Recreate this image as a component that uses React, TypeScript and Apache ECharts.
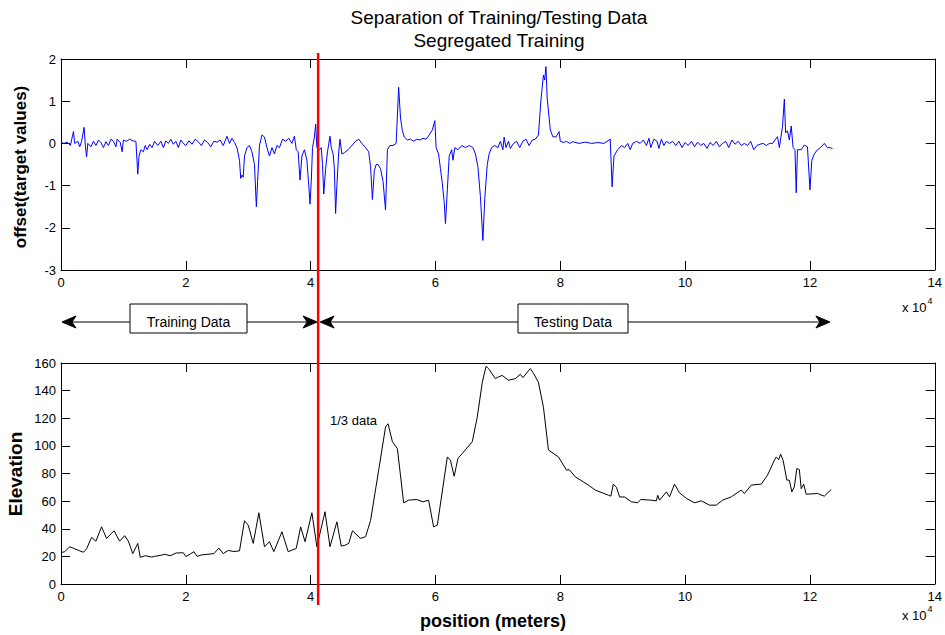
import { useEffect, useRef } from "react";
import * as echarts from "echarts";

const titleLines = ["Separation of Training/Testing Data", "Segregated Training"];
const topYLabel = "offset(target values)";
const bottomYLabel = "Elevation";
const xLabel = "position (meters)";
const annotation = "1/3 data";
const trainingLabel = "Training Data";
const testingLabel = "Testing Data";

// x in units of 10^4 m
const xMin = 0;
const xMax = 14;
const xInterval = 2;
const offsetMin = -3;
const offsetMax = 2;
const offsetInterval = 1;
const elevMin = 0;
const elevMax = 160;
const elevInterval = 20;
const splitX = 4.12;
const arrowEndX = 12.32;

const offsetData: [number, number][] = [
  [0, 0.02], [0.05, 0.0], [0.1, 0.03], [0.15, -0.05], [0.2, 0.28], [0.22, 0.0], [0.27, 0.05], [0.3, -0.08],
  [0.33, 0.05], [0.37, 0.38], [0.39, -0.05], [0.41, -0.32], [0.43, 0.0], [0.48, -0.08], [0.52, 0.05], [0.56, -0.05],
  [0.6, 0.08], [0.64, 0.02], [0.68, -0.1], [0.72, 0.04], [0.76, -0.05], [0.8, 0.1], [0.84, 0.05], [0.88, -0.08],
  [0.9, 0.1], [0.95, 0.02], [0.98, -0.2], [1.0, 0.08], [1.05, 0.05], [1.1, 0.1], [1.15, 0.06], [1.2, 0.05],
  [1.23, -0.73], [1.25, -0.3], [1.28, -0.15], [1.32, -0.2], [1.35, -0.05], [1.38, -0.15], [1.42, -0.02], [1.46, -0.1],
  [1.5, 0.05], [1.55, -0.05], [1.6, 0.05], [1.64, -0.1], [1.68, 0.06], [1.72, 0.0], [1.76, 0.1], [1.8, -0.02],
  [1.84, 0.05], [1.88, -0.1], [1.92, 0.08], [1.96, 0.0], [2.0, -0.05], [2.05, 0.06], [2.1, -0.02], [2.15, 0.1],
  [2.2, 0.04], [2.25, -0.05], [2.3, 0.08], [2.35, 0.02], [2.4, -0.08], [2.45, 0.05], [2.5, 0.03], [2.55, 0.08],
  [2.6, -0.05], [2.66, 0.17], [2.7, 0.0], [2.74, 0.12], [2.78, 0.02], [2.82, -0.1], [2.86, -0.4], [2.88, -0.83],
  [2.9, -0.75], [2.92, -0.8], [2.94, -0.3], [2.98, -0.1], [3.02, -0.05], [3.06, -0.2], [3.1, -0.5], [3.13, -1.5],
  [3.15, -0.9], [3.18, -0.05], [3.22, 0.2], [3.26, 0.15], [3.3, -0.1], [3.34, -0.3], [3.38, -0.1], [3.42, -0.25],
  [3.46, -0.05], [3.5, -0.1], [3.55, 0.1], [3.6, 0.05], [3.65, 0.12], [3.7, 0.0], [3.74, 0.17], [3.77, -0.15],
  [3.8, -0.2], [3.83, -0.87], [3.86, -0.3], [3.9, -0.15], [3.94, -0.4], [3.97, -1.0], [3.99, -1.44], [4.01, -0.9],
  [4.03, -0.1], [4.06, 0.15], [4.08, 0.46], [4.1, -0.1], [4.14, -0.15], [4.17, -0.1], [4.19, -0.5], [4.21, -1.2],
  [4.24, -0.6], [4.27, -0.2], [4.31, 0.17], [4.33, -0.1], [4.36, -0.25], [4.38, -0.6], [4.4, -1.66], [4.42, -1.0],
  [4.45, -0.2], [4.47, 0.1], [4.5, -0.25], [4.54, -0.22], [4.6, -0.15], [4.66, -0.05], [4.72, 0.05], [4.77, 0.1],
  [4.82, 0.0], [4.88, -0.1], [4.93, -0.2], [4.96, -0.55], [4.99, -1.33], [5.02, -0.65], [5.05, -0.5], [5.08, -0.5],
  [5.12, -0.6], [5.16, -0.9], [5.2, -1.58], [5.23, -0.15], [5.27, -0.05], [5.32, -0.05], [5.37, 0.0], [5.41, 1.33],
  [5.44, 0.6], [5.47, 0.3], [5.5, 0.15], [5.55, 0.08], [5.6, 0.1], [5.65, 0.05], [5.7, 0.1], [5.75, 0.08],
  [5.8, 0.12], [5.85, 0.1], [5.9, 0.2], [5.95, 0.32], [5.99, 0.54], [6.01, -0.1], [6.05, -0.25], [6.08, -0.6],
  [6.11, -0.95], [6.14, -1.4], [6.16, -1.9], [6.19, -1.1], [6.22, -0.3], [6.26, -0.15], [6.28, -0.4], [6.31, -0.1],
  [6.36, -0.15], [6.42, -0.05], [6.48, -0.1], [6.54, -0.05], [6.6, -0.1], [6.64, -0.25], [6.68, -0.55], [6.72, -1.26],
  [6.76, -2.3], [6.79, -1.3], [6.83, -0.5], [6.86, -0.25], [6.9, -0.1], [6.95, -0.05], [7.0, -0.1], [7.04, 0.05],
  [7.08, -0.15], [7.1, 0.15], [7.13, -0.1], [7.17, 0.05], [7.2, -0.12], [7.25, 0.0], [7.3, 0.05], [7.35, -0.1],
  [7.4, 0.05], [7.45, 0.1], [7.5, -0.05], [7.55, 0.08], [7.6, 0.1], [7.65, 0.2], [7.69, 1.03], [7.73, 1.62],
  [7.75, 1.5], [7.77, 1.82], [7.79, 1.07], [7.84, 0.32], [7.88, 0.16], [7.93, 0.15], [7.98, 0.28], [8.0, 0.05],
  [8.05, 0.02], [8.1, 0.05], [8.15, 0.0], [8.2, 0.04], [8.3, 0.0], [8.4, 0.03], [8.5, 0.0], [8.6, 0.02],
  [8.7, 0.0], [8.8, 0.1], [8.83, -1.03], [8.86, -0.3], [8.92, -0.15], [8.98, -0.05], [9.03, -0.1], [9.08, 0.0],
  [9.12, -0.15], [9.16, 0.0], [9.22, 0.05], [9.28, 0.0], [9.33, 0.08], [9.38, -0.05], [9.42, 0.12], [9.45, -0.1],
  [9.5, 0.1], [9.55, 0.05], [9.58, -0.12], [9.62, 0.1], [9.66, -0.05], [9.7, 0.05], [9.75, 0.0], [9.8, 0.05],
  [9.85, -0.05], [9.9, 0.05], [9.95, -0.1], [10.0, 0.02], [10.05, -0.05], [10.1, 0.05], [10.15, -0.08], [10.2, 0.03],
  [10.25, -0.05], [10.3, 0.0], [10.35, -0.12], [10.4, 0.02], [10.45, -0.05], [10.5, 0.05], [10.55, -0.08], [10.6, 0.0],
  [10.65, 0.05], [10.7, -0.1], [10.75, 0.08], [10.8, -0.02], [10.85, 0.05], [10.9, -0.05], [10.95, 0.0], [11.0, -0.05],
  [11.05, 0.05], [11.1, -0.15], [11.15, -0.05], [11.2, -0.02], [11.25, 0.0], [11.3, -0.05], [11.35, 0.0], [11.4, 0.0],
  [11.45, 0.1], [11.48, 0.16], [11.51, -0.1], [11.56, 0.4], [11.59, 1.05], [11.61, 0.25], [11.64, 0.3], [11.67, 0.08],
  [11.7, 0.41], [11.73, -0.1], [11.76, -0.15], [11.78, -1.17], [11.8, -0.15], [11.86, -0.15], [11.91, -0.04], [11.96, -0.08],
  [12.0, -1.1], [12.03, -0.4], [12.07, -0.25], [12.12, -0.15], [12.17, -0.1], [12.23, 0.0], [12.28, -0.1], [12.32, -0.1],
  [12.36, -0.12],
];

const elevationData: [number, number][] = [
  [0, 22.7], [0.06, 23.4], [0.14, 27], [0.22, 25.5], [0.3, 24], [0.36, 23], [0.41, 25.5], [0.49, 33.7],
  [0.56, 31], [0.65, 41.4], [0.73, 33], [0.85, 38.5], [0.94, 31], [1.02, 35], [1.08, 31], [1.15, 22],
  [1.23, 29.4], [1.27, 19.3], [1.35, 20.5], [1.45, 19.5], [1.5, 20], [1.6, 20.8], [1.66, 21.5], [1.75, 20.5],
  [1.85, 22.5], [1.96, 22.6], [2.0, 19.8], [2.08, 22], [2.13, 23.4], [2.18, 20], [2.25, 21], [2.34, 21.5],
  [2.45, 22], [2.53, 26], [2.6, 22], [2.68, 24.3], [2.77, 23.5], [2.86, 24], [2.94, 45.8], [3.0, 42.6],
  [3.08, 29.4], [3.17, 51.6], [3.26, 27], [3.34, 30.6], [3.41, 23.4], [3.54, 37.8], [3.64, 23.4], [3.77, 25.8],
  [3.84, 41.4], [3.91, 30.6], [4.02, 51.6], [4.1, 27], [4.23, 52.3], [4.31, 27], [4.42, 45], [4.49, 27.5],
  [4.55, 28], [4.61, 29.4], [4.67, 38.5], [4.8, 33], [4.88, 34.2], [4.96, 46], [5.09, 82.4], [5.2, 113.7],
  [5.24, 116], [5.31, 103], [5.39, 98], [5.49, 58.8], [5.57, 60.7], [5.7, 61.2], [5.8, 59.5], [5.89, 60.7],
  [5.97, 41.4], [6.03, 42.6], [6.19, 92], [6.24, 89.6], [6.3, 78], [6.36, 91], [6.43, 94.5], [6.59, 103],
  [6.67, 121], [6.75, 146], [6.81, 157.6], [6.85, 156], [6.96, 148.7], [7.01, 150], [7.07, 151], [7.17, 147.5],
  [7.28, 148.7], [7.36, 151.8], [7.4, 149.4], [7.52, 156], [7.57, 152.5], [7.65, 146], [7.73, 128], [7.81, 97],
  [7.97, 92], [8.1, 82.4], [8.14, 82.9], [8.24, 77.6], [8.45, 71.6], [8.56, 68], [8.77, 64.3], [8.81, 63.6],
  [8.85, 72.3], [8.9, 70], [8.95, 63], [9.03, 63], [9.14, 59.5], [9.24, 58.8], [9.29, 61.2], [9.45, 60.7],
  [9.54, 60.2], [9.56, 64.3], [9.59, 60.7], [9.7, 66.7], [9.75, 63.1], [9.83, 72.3], [9.91, 66], [10.02, 62],
  [10.15, 58.8], [10.26, 60.2], [10.39, 57.1], [10.5, 57.1], [10.6, 60.7], [10.74, 63.1], [10.9, 68], [10.95, 65.5],
  [11.06, 71.6], [11.22, 72.3], [11.32, 78.8], [11.43, 89.6], [11.46, 92], [11.5, 90], [11.53, 94], [11.57, 89.6],
  [11.63, 75.2], [11.67, 75.2], [11.71, 66.7], [11.75, 70.3], [11.79, 83.6], [11.83, 82.9], [11.86, 69], [11.9, 72.3],
  [11.94, 65], [12.12, 65.5], [12.23, 63.6], [12.34, 68.4],
];

const FF = "'Liberation Sans', Arial, Helvetica, sans-serif";

function xAxisDef(gridIndex: number, position: "top" | "bottom", showLabel: boolean) {
  return {
    type: "value" as const,
    gridIndex,
    position,
    min: xMin,
    max: xMax,
    interval: xInterval,
    axisLine: { show: true, onZero: false, lineStyle: { color: "#000", width: 1 } },
    axisTick: { show: true, inside: true, length: 9, lineStyle: { color: "#000" } },
    axisLabel: { show: showLabel, color: "#000", fontSize: 13, fontFamily: FF, margin: 6 },
    splitLine: { show: false },
  };
}

function yAxisDef(gridIndex: number, position: "left" | "right", showLabel: boolean, min: number, max: number, interval: number) {
  return {
    type: "value" as const,
    gridIndex,
    position,
    min,
    max,
    interval,
    axisLine: { show: true, onZero: false, lineStyle: { color: "#000", width: 1 } },
    axisTick: { show: true, inside: true, length: 9, lineStyle: { color: "#000" } },
    axisLabel: { show: showLabel, color: "#000", fontSize: 13, fontFamily: FF, margin: 5 },
    splitLine: { show: false },
  };
}

function arrowHead(tipX: number, y: number, dir: number) {
  // dir = -1 points left, 1 points right
  return {
    type: "polygon",
    shape: {
      points: [
        [tipX, y],
        [tipX - dir * 14, y - 6],
        [tipX - dir * 10, y],
        [tipX - dir * 14, y + 6],
      ],
    },
    style: { fill: "#000", stroke: "#000", lineWidth: 1 },
    z: 10,
  };
}

export default function App() {
  const ref = useRef<HTMLDivElement>(null);

  useEffect(() => {
    document.body.style.margin = "0";
    const chart = echarts.init(ref.current!, null, { renderer: "svg" });
    chart.setOption({
      animation: false,
      backgroundColor: "#fff",
      grid: [
        { left: 61, top: 59, width: 876, height: 211 },
        { left: 61, top: 363, width: 876, height: 221 },
      ],
      xAxis: [
        xAxisDef(0, "bottom", true),
        xAxisDef(0, "top", false),
        xAxisDef(1, "bottom", true),
        xAxisDef(1, "top", false),
      ],
      yAxis: [
        yAxisDef(0, "left", true, offsetMin, offsetMax, offsetInterval),
        yAxisDef(0, "right", false, offsetMin, offsetMax, offsetInterval),
        yAxisDef(1, "left", true, elevMin, elevMax, elevInterval),
        yAxisDef(1, "right", false, elevMin, elevMax, elevInterval),
      ],
      series: [
        {
          type: "line",
          name: "offset",
          xAxisIndex: 0,
          yAxisIndex: 0,
          data: offsetData,
          showSymbol: false,
          lineStyle: { color: "#0000ff", width: 1 },
          itemStyle: { color: "#0000ff" },
        },
        {
          type: "line",
          name: "elevation",
          xAxisIndex: 2,
          yAxisIndex: 2,
          data: elevationData,
          showSymbol: false,
          lineStyle: { color: "#000", width: 1 },
          itemStyle: { color: "#000" },
        },
      ],
    });

    const sx = chart.convertToPixel({ xAxisIndex: 0 }, splitX) as number;
    const x0 = chart.convertToPixel({ xAxisIndex: 0 }, xMin) as number;
    const xe = chart.convertToPixel({ xAxisIndex: 0 }, arrowEndX) as number;
    const ay = 322;

    const trainBox = { x: 130, y: 304, width: 117, height: 29 };
    const testBox = { x: 518, y: 304, width: 110, height: 29 };

    const sup = (y: number) => ({
      type: "text",
      x: 902,
      y,
      style: {
        text: "{a|x 10}{b|4}",
        rich: {
          a: { fontSize: 13, fontFamily: FF, fill: "#000", verticalAlign: "bottom" },
          b: { fontSize: 9, fontFamily: FF, fill: "#000", verticalAlign: "top", padding: [0, 0, 8, 1] },
        },
        verticalAlign: "middle",
      },
    });

    chart.setOption({
      graphic: [
        { type: "text", x: 499, y: 17, style: { text: titleLines[0], fontSize: 19, fontFamily: FF, fill: "#000", align: "center", verticalAlign: "middle" } },
        { type: "text", x: 499, y: 40, style: { text: titleLines[1], fontSize: 19, fontFamily: FF, fill: "#000", align: "center", verticalAlign: "middle" } },
        { type: "text", x: 20, y: 167, rotation: Math.PI / 2, style: { text: topYLabel, fontSize: 17, fontWeight: "bold", fontFamily: FF, fill: "#000", align: "center", verticalAlign: "middle" } },
        { type: "text", x: 15, y: 474, rotation: Math.PI / 2, style: { text: bottomYLabel, fontSize: 19, fontWeight: "bold", fontFamily: FF, fill: "#000", align: "center", verticalAlign: "middle" } },
        { type: "text", x: 493, y: 621, style: { text: xLabel, fontSize: 18, fontWeight: "bold", fontFamily: FF, fill: "#000", align: "center", verticalAlign: "middle" } },
        sup(305),
        sup(613),
        { type: "text", x: 330, y: 420, style: { text: annotation, fontSize: 13, fontFamily: FF, fill: "#000", verticalAlign: "middle" } },
        // arrows
        { type: "line", shape: { x1: x0 + 9, y1: ay, x2: trainBox.x, y2: ay }, style: { stroke: "#000", lineWidth: 1 } },
        { type: "line", shape: { x1: trainBox.x + trainBox.width, y1: ay, x2: sx - 9, y2: ay }, style: { stroke: "#000", lineWidth: 1 } },
        { type: "line", shape: { x1: sx + 9, y1: ay, x2: testBox.x, y2: ay }, style: { stroke: "#000", lineWidth: 1 } },
        { type: "line", shape: { x1: testBox.x + testBox.width, y1: ay, x2: xe - 9, y2: ay }, style: { stroke: "#000", lineWidth: 1 } },
        arrowHead(x0 + 1, ay, -1),
        arrowHead(sx - 1, ay, 1),
        arrowHead(sx + 2, ay, -1),
        arrowHead(xe, ay, 1),
        { type: "rect", shape: trainBox, style: { fill: "#fff", stroke: "#000", lineWidth: 1 } },
        { type: "text", x: trainBox.x + trainBox.width / 2, y: ay, style: { text: trainingLabel, fontSize: 14, fontFamily: FF, fill: "#000", align: "center", verticalAlign: "middle" } },
        { type: "rect", shape: testBox, style: { fill: "#fff", stroke: "#000", lineWidth: 1 } },
        { type: "text", x: testBox.x + testBox.width / 2, y: ay, style: { text: testingLabel, fontSize: 14, fontFamily: FF, fill: "#000", align: "center", verticalAlign: "middle" } },
        // split line
        { type: "line", shape: { x1: sx, y1: 53, x2: sx, y2: 605 }, style: { stroke: "#ff0000", lineWidth: 2.5 }, z: 20 },
      ],
    });

    return () => chart.dispose();
  }, []);

  return <div ref={ref} style={{ width: 945, height: 635 }} />;
}
